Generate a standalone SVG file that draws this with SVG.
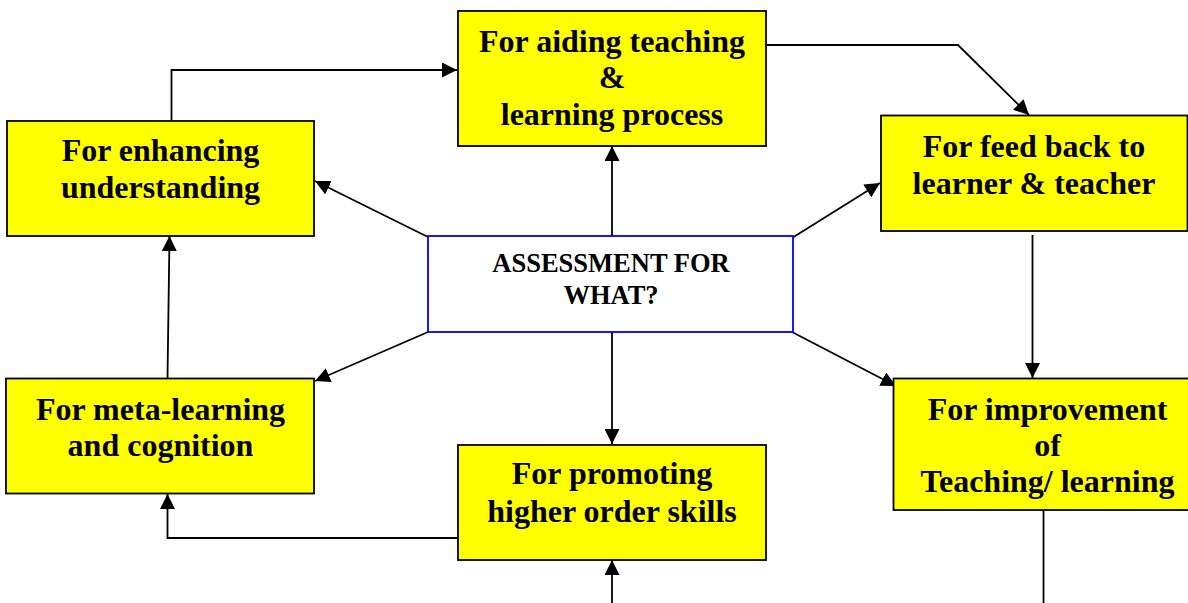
<svg xmlns="http://www.w3.org/2000/svg" width="1188" height="603" viewBox="0 0 1188 603">
  <style>
    .box { fill: #ffff00; stroke: #000000; stroke-width: 1.8; }
    .hub { fill: #ffffff; stroke: #0000ff; stroke-width: 1.8; }
    .lbl { font-family: "Liberation Serif", "Times New Roman", serif; font-weight: bold; font-size: 32px; fill: #000000; text-anchor: middle; }
    .hublbl { font-family: "Liberation Serif", "Times New Roman", serif; font-weight: bold; font-size: 26.5px; fill: #000000; text-anchor: middle; }
    .wire { fill: none; stroke: #000000; stroke-width: 1.8; }
    .arrow { marker-end: url(#head); }
  </style>
  <defs>
    <!-- filled triangular arrowhead, sized in user units -->
    <marker id="head" markerUnits="userSpaceOnUse" markerWidth="16" markerHeight="15" refX="15" refY="7.5" orient="auto">
      <path d="M0,0 L15,7.5 L0,15 Z" fill="#000000"/>
    </marker>
  </defs>
  <rect width="1188" height="603" fill="#ffffff"/>

  <!-- connectors -->
  <g id="connectors">
    <path class="wire arrow" d="M171.5,120 V70 H457"/>
    <path class="wire arrow" d="M766,45 H958 L1029,115"/>
    <path class="wire arrow" d="M612,236 V146"/>
    <path class="wire arrow" d="M428,237 L315,181"/>
    <path class="wire arrow" d="M792,238 L880,183"/>
    <path class="wire arrow" d="M428,332 L315,381"/>
    <path class="wire arrow" d="M792,332 L896,386"/>
    <path class="wire arrow" d="M612,332 V444"/>
    <path class="wire arrow" d="M1032.5,235 V378"/>
    <path class="wire arrow" d="M167.5,378 L169.5,236"/>
    <path class="wire arrow" d="M458,538 H167.5 V494"/>
    <path class="wire arrow" d="M612,603 V560"/>
    <path class="wire" d="M1043.5,510 V603"/>
  </g>

  <!-- hub -->
  <g id="assessment">
    <rect class="hub" x="428" y="236" width="365" height="96"/>
    <text class="hublbl" x="611" y="272">ASSESSMENT FOR</text>
    <text class="hublbl" x="611" y="304">WHAT?</text>
  </g>

  <g id="aiding">
    <rect class="box" x="458" y="11" width="308" height="135"/>
    <text class="lbl" x="612" y="52">For aiding teaching</text>
    <text class="lbl" x="612" y="88">&amp;</text>
    <text class="lbl" x="612" y="125">learning process</text>
  </g>

  <g id="enhancing">
    <rect class="box" x="7" y="121" width="307" height="115"/>
    <text class="lbl" x="160.5" y="161">For enhancing</text>
    <text class="lbl" x="160.5" y="198">understanding</text>
  </g>

  <g id="feedback">
    <rect class="box" x="881" y="115.5" width="306.5" height="115.5"/>
    <text class="lbl" x="1034" y="157">For feed back to</text>
    <text class="lbl" x="1034" y="193.5">learner &amp; teacher</text>
  </g>

  <g id="improvement">
    <rect class="box" x="893.5" y="378.5" width="310" height="131.5"/>
    <text class="lbl" x="1047.5" y="419.5">For improvement</text>
    <text class="lbl" x="1047.5" y="455.5">of</text>
    <text class="lbl" x="1047.5" y="492">Teaching/ learning</text>
  </g>

  <g id="metalearning">
    <rect class="box" x="6" y="378.5" width="308" height="115"/>
    <text class="lbl" x="160.5" y="419.5">For meta-learning</text>
    <text class="lbl" x="160.5" y="456">and cognition</text>
  </g>

  <g id="promoting">
    <rect class="box" x="458" y="445" width="308" height="115"/>
    <text class="lbl" x="612" y="484">For promoting</text>
    <text class="lbl" x="612" y="522">higher order skills</text>
  </g>
</svg>
